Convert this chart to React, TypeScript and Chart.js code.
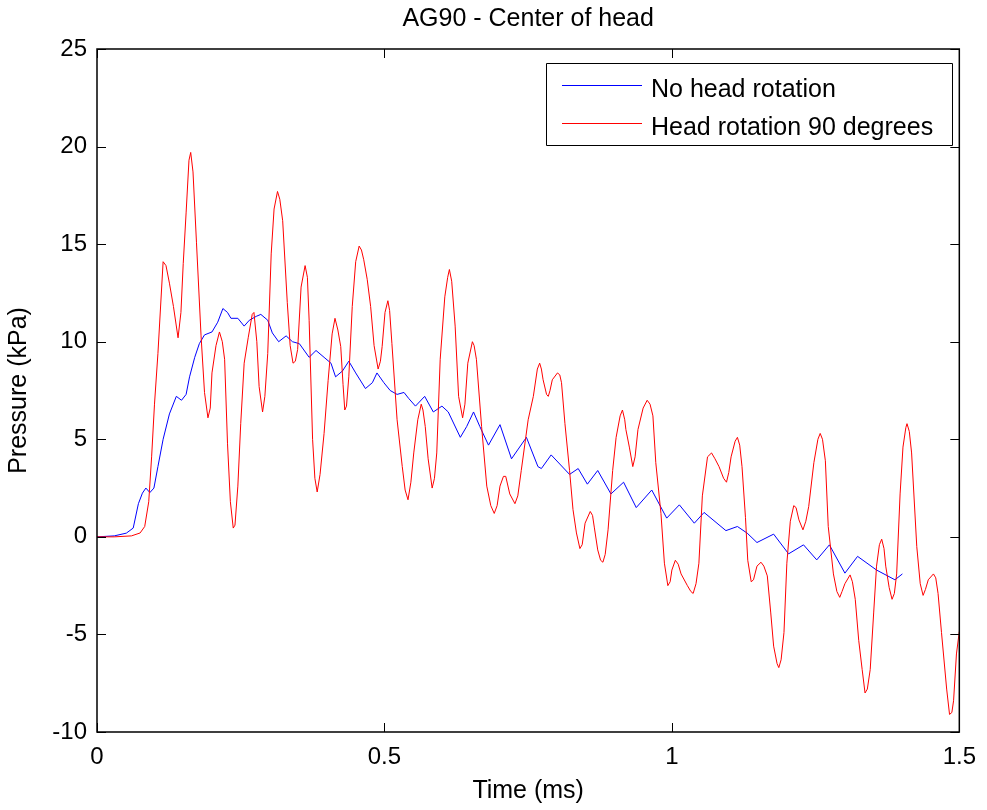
import React, { useEffect, useRef } from "react";
import { Chart, registerables } from "chart.js";

Chart.register(...registerables);

// Time (ms), pressure (kPa)
const noHeadRotation: [number, number][] = [
  [0, 0], [0.03, 0.05], [0.051, 0.19], [0.063, 0.45], [0.072, 1.7], [0.079, 2.24], [0.085, 2.5],
  [0.092, 2.27], [0.099, 2.5], [0.106, 3.6], [0.115, 5.0], [0.126, 6.3], [0.138, 7.2], [0.147, 7.0],
  [0.155, 7.3], [0.161, 8.2], [0.17, 9.2], [0.178, 9.9], [0.187, 10.35], [0.2, 10.5], [0.21, 11.0],
  [0.219, 11.7], [0.227, 11.5], [0.233, 11.2], [0.245, 11.2], [0.256, 10.8], [0.265, 11.1], [0.277, 11.3],
  [0.285, 11.4], [0.297, 11.1], [0.305, 10.45], [0.316, 10.0], [0.329, 10.3], [0.34, 10.0], [0.352, 9.9],
  [0.369, 9.2], [0.381, 9.55], [0.395, 9.2], [0.407, 8.9], [0.415, 8.2], [0.427, 8.5], [0.438, 9.0],
  [0.45, 8.4], [0.467, 7.6], [0.479, 7.9], [0.487, 8.4], [0.499, 7.9], [0.51, 7.5], [0.522, 7.3],
  [0.534, 7.4], [0.542, 7.1], [0.554, 6.7], [0.57, 7.2], [0.585, 6.4], [0.6, 6.7], [0.611, 6.4],
  [0.632, 5.1], [0.643, 5.65], [0.655, 6.4], [0.666, 5.65], [0.681, 4.7], [0.701, 5.75], [0.721, 4.0],
  [0.747, 5.1], [0.767, 3.6], [0.773, 3.5], [0.79, 4.2], [0.822, 3.2], [0.837, 3.5], [0.853, 2.7],
  [0.871, 3.4], [0.894, 2.2], [0.916, 2.8], [0.938, 1.5], [0.965, 2.4], [0.991, 0.96], [1.013, 1.64],
  [1.039, 0.7], [1.056, 1.25], [1.094, 0.32], [1.114, 0.53], [1.131, 0.19], [1.148, -0.29], [1.177, 0.14],
  [1.203, -0.87], [1.229, -0.41], [1.252, -1.18], [1.274, -0.41], [1.301, -1.86], [1.323, -1.0],
  [1.356, -1.7], [1.388, -2.2], [1.401, -1.9],
];

const headRotation90: [number, number][] = [
  [0, 0], [0.03, 0], [0.06, 0.05], [0.075, 0.2], [0.083, 0.53], [0.09, 1.8], [0.095, 4.1], [0.1, 6.8],
  [0.106, 9.4], [0.115, 14.1], [0.12, 13.9], [0.126, 13.0], [0.133, 11.8], [0.141, 10.2], [0.146, 11.5],
  [0.15, 14.0], [0.155, 16.6], [0.16, 19.3], [0.163, 19.7], [0.167, 18.7], [0.173, 15.1], [0.181, 10.3],
  [0.187, 7.4], [0.193, 6.1], [0.197, 6.6], [0.2, 8.4], [0.207, 9.8], [0.213, 10.5], [0.218, 10.0],
  [0.222, 9.1], [0.227, 4.8], [0.232, 1.8], [0.237, 0.45], [0.24, 0.6], [0.245, 2.6], [0.25, 5.8],
  [0.256, 8.9], [0.263, 10.2], [0.27, 11.4], [0.273, 11.5], [0.278, 10.0], [0.282, 7.7], [0.288, 6.4],
  [0.292, 7.2], [0.297, 9.4], [0.303, 14.5], [0.308, 16.8], [0.314, 17.7], [0.318, 17.3], [0.323, 16.2],
  [0.331, 12.0], [0.336, 9.8], [0.341, 8.9], [0.345, 9.0], [0.349, 9.6], [0.355, 12.8], [0.362, 13.9],
  [0.366, 13.3], [0.369, 11.1], [0.375, 5.0], [0.379, 3.0], [0.383, 2.3], [0.388, 3.2], [0.395, 5.3],
  [0.402, 8.0], [0.409, 10.4], [0.414, 11.2], [0.419, 10.6], [0.424, 9.75], [0.428, 7.8], [0.431, 6.5],
  [0.434, 6.7], [0.438, 8.2], [0.444, 11.8], [0.45, 14.1], [0.456, 14.9], [0.46, 14.7], [0.464, 14.2],
  [0.47, 13.2], [0.476, 11.8], [0.482, 9.8], [0.489, 8.6], [0.493, 9.0], [0.496, 9.75], [0.501, 11.5],
  [0.506, 12.1], [0.509, 11.6], [0.513, 9.9], [0.522, 6.0], [0.531, 3.6], [0.536, 2.4], [0.541, 1.9],
  [0.546, 2.8], [0.551, 4.3], [0.558, 6.0], [0.564, 6.8], [0.567, 6.5], [0.571, 5.65], [0.576, 4.0],
  [0.583, 2.5], [0.587, 3.0], [0.591, 4.3], [0.597, 9.1], [0.605, 12.3], [0.61, 13.3], [0.613, 13.7],
  [0.617, 13.1], [0.623, 10.8], [0.629, 7.2], [0.636, 6.1], [0.64, 6.8], [0.645, 8.9], [0.653, 10.0],
  [0.656, 9.8], [0.66, 9.1], [0.669, 5.65], [0.678, 2.6], [0.685, 1.6], [0.691, 1.2], [0.696, 1.6],
  [0.701, 2.6], [0.707, 3.1], [0.711, 3.1], [0.718, 2.2], [0.727, 1.7], [0.732, 2.1], [0.738, 3.4],
  [0.75, 6.0], [0.759, 7.2], [0.766, 8.6], [0.77, 8.9], [0.773, 8.6], [0.776, 8.05], [0.782, 7.3],
  [0.785, 7.2], [0.788, 7.5], [0.792, 8.05], [0.801, 8.4], [0.805, 8.3], [0.808, 7.9], [0.814, 5.8],
  [0.822, 3.4], [0.828, 1.4], [0.834, 0.2], [0.84, -0.6], [0.844, -0.4], [0.849, 0.7], [0.858, 1.3],
  [0.862, 1.1], [0.865, 0.5], [0.871, -0.67], [0.876, -1.2], [0.88, -1.3], [0.884, -0.9], [0.889, 0.36],
  [0.897, 3.4], [0.903, 5.1], [0.91, 6.2], [0.914, 6.5], [0.918, 6.0], [0.92, 5.5], [0.926, 4.6],
  [0.932, 3.6], [0.936, 4.1], [0.941, 5.5], [0.95, 6.6], [0.957, 7.0], [0.962, 6.8], [0.967, 6.2],
  [0.972, 3.8], [0.981, 1.2], [0.987, -1.35], [0.993, -2.5], [0.997, -2.3], [1.0, -1.7], [1.006, -1.2],
  [1.011, -1.4], [1.016, -1.9], [1.027, -2.5], [1.033, -2.8], [1.037, -2.9], [1.042, -2.4], [1.047, -1.35],
  [1.053, 2.1], [1.062, 4.1], [1.069, 4.3], [1.075, 4.0], [1.082, 3.6], [1.09, 3.0], [1.095, 2.8],
  [1.099, 3.3], [1.103, 4.1], [1.11, 4.9], [1.114, 5.1], [1.118, 4.7], [1.122, 3.6], [1.128, 1.0],
  [1.132, -1.2], [1.138, -2.3], [1.142, -2.2], [1.148, -1.5], [1.155, -1.3], [1.16, -1.5], [1.166, -2.0],
  [1.172, -3.9], [1.177, -5.6], [1.183, -6.5], [1.186, -6.7], [1.19, -6.3], [1.195, -4.9], [1.2, -1.35],
  [1.206, 0.8], [1.212, 1.6], [1.216, 1.5], [1.221, 0.87], [1.228, 0.36], [1.233, 0.8], [1.238, 1.55],
  [1.247, 3.8], [1.254, 5.0], [1.258, 5.3], [1.262, 5.0], [1.267, 3.9], [1.272, 0.53], [1.281, -1.9],
  [1.287, -2.8], [1.292, -3.1], [1.296, -2.8], [1.301, -2.4], [1.31, -1.95], [1.314, -2.3], [1.319, -3.2],
  [1.325, -5.3], [1.331, -6.8], [1.336, -8.0], [1.34, -7.8], [1.345, -6.8], [1.351, -3.9], [1.356, -1.5],
  [1.361, -0.4], [1.365, -0.12], [1.369, -0.6], [1.372, -1.5], [1.378, -2.6], [1.383, -3.2], [1.387, -2.9],
  [1.391, -1.9], [1.397, 2.2], [1.402, 4.6], [1.407, 5.6], [1.409, 5.8], [1.413, 5.4], [1.417, 4.3],
  [1.426, -0.5], [1.432, -2.4], [1.437, -3.0], [1.441, -2.7], [1.446, -2.2], [1.455, -1.9], [1.459, -2.1],
  [1.463, -2.9], [1.469, -4.9], [1.478, -7.8], [1.483, -9.1], [1.487, -9.0], [1.49, -8.4], [1.495, -6.0],
  [1.5, -4.85],
];

const xTickValues = [0, 0.5, 1, 1.5];
const yTickValues = [-10, -5, 0, 5, 10, 15, 20, 25];
const seriesNames = ["No head rotation", "Head rotation 90 degrees"];
const seriesColors = ["rgb(0, 0, 255)", "rgb(255, 0, 0)"];
const chartTitle = "AG90 - Center of head";
const xAxisTitle = "Time (ms)";
const yAxisTitle = "Pressure (kPa)";

const FONT = "'Liberation Sans', Arial, Helvetica, sans-serif";

const framePlugin = {
  id: "matlabFrame",
  afterDraw(chart: any) {
    const { ctx, chartArea, scales } = chart;
    const { left, right, top, bottom } = chartArea;
    const L = 9;
    ctx.save();
    ctx.strokeStyle = "#000";
    ctx.lineWidth = 1;
    ctx.beginPath();
    for (const v of xTickValues) {
      const px = Math.round(scales.x.getPixelForValue(v)) + 0.5;
      ctx.moveTo(px, bottom);
      ctx.lineTo(px, bottom - L);
      ctx.moveTo(px, top);
      ctx.lineTo(px, top + L);
    }
    for (const v of yTickValues) {
      const py = Math.round(scales.y.getPixelForValue(v)) + 0.5;
      ctx.moveTo(left, py);
      ctx.lineTo(left + L, py);
      ctx.moveTo(right, py);
      ctx.lineTo(right - L, py);
    }
    ctx.stroke();
    ctx.lineWidth = 1.5;
    ctx.beginPath();
    ctx.rect(left, top, right - left, bottom - top);
    ctx.stroke();
    ctx.restore();

    // legend box (top-right, inside axes)
    const bx = 546.5, by = 63.5, bw = 406, bh = 82;
    ctx.save();
    ctx.fillStyle = "#ffffff";
    ctx.fillRect(bx, by, bw, bh);
    ctx.lineWidth = 1;
    ctx.strokeStyle = "#000000";
    ctx.beginPath();
    ctx.rect(bx, by, bw, bh);
    ctx.stroke();
    ctx.restore();

    // legend entries: row 0 = blue, row 1 = red
    const rowY = [85, 123];
    ctx.save();
    for (let i = 0; i < seriesNames.length; i++) {
      ctx.fillStyle = seriesColors[i];
      ctx.fillRect(562, rowY[i], 80, 1);
    }
    ctx.font = `25px ${FONT}`;
    ctx.textBaseline = "alphabetic";
    ctx.textAlign = "left";
    ctx.fillStyle = "#000000";
    for (let i = 0; i < seriesNames.length; i++) {
      ctx.fillText(seriesNames[i], 651, rowY[i] + 12.3);
    }
    ctx.restore();
  },
};

export default function App() {
  const canvasRef = useRef<HTMLCanvasElement | null>(null);

  useEffect(() => {
    const canvas = canvasRef.current;
    if (!canvas) return;
    const tickFont = { family: FONT, size: 24, weight: "normal" as const };
    const chart = new Chart(canvas, {
      type: "line",
      data: {
        datasets: [
          {
            label: seriesNames[0],
            data: noHeadRotation.map(([x, y]) => ({ x, y })),
            borderColor: seriesColors[0],
            backgroundColor: seriesColors[0],
            borderWidth: 1,
            pointRadius: 0,
            tension: 0,
            order: 2,
          },
          {
            label: seriesNames[1],
            data: headRotation90.map(([x, y]) => ({ x, y })),
            borderColor: seriesColors[1],
            backgroundColor: seriesColors[1],
            borderWidth: 1,
            pointRadius: 0,
            tension: 0,
            order: 1,
          },
        ],
      },
      options: {
        responsive: false,
        animation: false,
        events: [],
        layout: { padding: { top: 0, right: 24, bottom: 0, left: 0 } },
        plugins: {
          legend: { display: false },
          tooltip: { enabled: false },
          title: {
            display: true,
            fullSize: false,
            text: chartTitle,
            color: "#000",
            font: { family: FONT, size: 25, weight: "normal" },
            padding: { top: 4, bottom: 15 },
          },
        },
        scales: {
          x: {
            type: "linear",
            min: 0,
            max: 1.5,
            grid: { display: false, drawTicks: false },
            border: { display: false },
            afterBuildTicks: (scale: any) => {
              scale.ticks = xTickValues.map((v) => ({ value: v }));
            },
            ticks: {
              color: "#000",
              font: tickFont,
              padding: 11,
              maxRotation: 0,
              autoSkip: false,
              callback: (v: any) => String(v),
            },
            title: {
              display: true,
              text: xAxisTitle,
              color: "#000",
              font: { family: FONT, size: 25, weight: "normal" },
              padding: { top: 0, bottom: 3.4 },
            },
            afterFit: (scale: any) => {
              scale.height = 78;
            },
          },
          y: {
            type: "linear",
            min: -10,
            max: 25,
            grid: { display: false, drawTicks: false },
            border: { display: false },
            afterBuildTicks: (scale: any) => {
              scale.ticks = yTickValues.map((v) => ({ value: v }));
            },
            ticks: {
              color: "#000",
              font: tickFont,
              padding: 10,
              autoSkip: false,
              callback: (v: any) => String(v),
            },
            title: {
              display: true,
              text: yAxisTitle,
              color: "#000",
              font: { family: FONT, size: 25, weight: "normal" },
              padding: { top: 4, bottom: 0 },
            },
            afterFit: (scale: any) => {
              scale.width = 97;
            },
          },
        },
      },
      plugins: [framePlugin],
    });
    return () => chart.destroy();
  }, []);

  return (
    <div style={{ position: "absolute", left: 0, top: 0, width: 987, height: 810, background: "#fff" }}>
      <canvas ref={canvasRef} width={987} height={810} style={{ display: "block" }} />
    </div>
  );
}
